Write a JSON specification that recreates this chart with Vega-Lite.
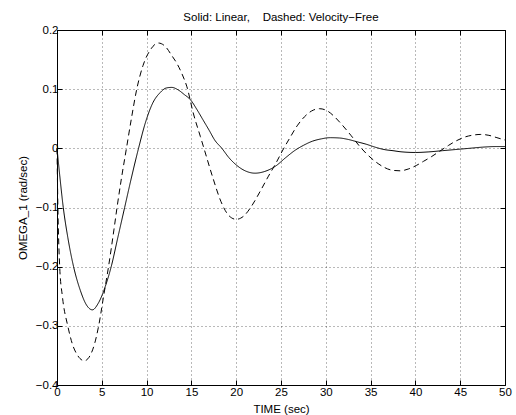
{
  "$schema": "https://vega.github.io/schema/vega-lite/v6.json",
  "width": 448,
  "height": 355,
  "autosize": {"type": "none"},
  "padding": {"left": 57, "top": 30, "right": 11, "bottom": 30},
  "background": "white",
  "title": {
    "text": "Solid: Linear,\u00a0\u00a0\u00a0\u00a0Dashed: Velocity\u2212Free",
    "font": "Liberation Sans",
    "fontSize": 11.5,
    "fontWeight": "normal",
    "color": "black",
    "anchor": "middle",
    "baseline": "alphabetic",
    "offset": 10,
    "dy": 18
  },
  "config": {
    "view": {"stroke": "black", "strokeWidth": 1},
    "axis": {
      "labelFont": "Liberation Sans",
      "labelFontSize": 11.5,
      "labelColor": "black",
      "titleFont": "Liberation Sans",
      "titleFontSize": 11.5,
      "titleFontWeight": "normal",
      "titleColor": "black",
      "tickColor": "black",
      "tickWidth": 1,
      "tickSize": -5,
      "domain": false,
      "gridColor": "black",
      "gridOpacity": 0.55,
      "gridDash": [1, 3],
      "gridWidth": 1
    }
  },
  "data": {
    "values": [
      {"t": 0, "v": 0, "series": "Linear"},
      {"t": 0.3, "v": -0.045, "series": "Linear"},
      {"t": 0.7, "v": -0.1, "series": "Linear"},
      {"t": 1.2, "v": -0.15, "series": "Linear"},
      {"t": 1.85, "v": -0.2, "series": "Linear"},
      {"t": 2.6, "v": -0.24, "series": "Linear"},
      {"t": 3.3, "v": -0.265, "series": "Linear"},
      {"t": 3.95, "v": -0.273, "series": "Linear"},
      {"t": 4.6, "v": -0.262, "series": "Linear"},
      {"t": 5.4, "v": -0.233, "series": "Linear"},
      {"t": 6.05, "v": -0.2, "series": "Linear"},
      {"t": 6.8, "v": -0.15, "series": "Linear"},
      {"t": 7.55, "v": -0.1, "series": "Linear"},
      {"t": 8.3, "v": -0.05, "series": "Linear"},
      {"t": 9.1, "v": 0, "series": "Linear"},
      {"t": 9.9, "v": 0.045, "series": "Linear"},
      {"t": 10.7, "v": 0.077, "series": "Linear"},
      {"t": 11.5, "v": 0.094, "series": "Linear"},
      {"t": 12.2, "v": 0.102, "series": "Linear"},
      {"t": 12.8, "v": 0.103, "series": "Linear"},
      {"t": 13.5, "v": 0.099, "series": "Linear"},
      {"t": 14.2, "v": 0.091, "series": "Linear"},
      {"t": 14.9, "v": 0.082, "series": "Linear"},
      {"t": 15.6, "v": 0.066, "series": "Linear"},
      {"t": 16.3, "v": 0.048, "series": "Linear"},
      {"t": 17.0, "v": 0.03, "series": "Linear"},
      {"t": 17.6, "v": 0.014, "series": "Linear"},
      {"t": 18.4, "v": 0, "series": "Linear"},
      {"t": 19.2, "v": -0.016, "series": "Linear"},
      {"t": 20.0, "v": -0.028, "series": "Linear"},
      {"t": 21.0, "v": -0.038, "series": "Linear"},
      {"t": 22.1, "v": -0.042, "series": "Linear"},
      {"t": 23.2, "v": -0.039, "series": "Linear"},
      {"t": 24.4, "v": -0.03, "series": "Linear"},
      {"t": 25.5, "v": -0.016, "series": "Linear"},
      {"t": 26.6, "v": -0.003, "series": "Linear"},
      {"t": 27.5, "v": 0.005, "series": "Linear"},
      {"t": 28.5, "v": 0.012, "series": "Linear"},
      {"t": 29.5, "v": 0.016, "series": "Linear"},
      {"t": 30.5, "v": 0.018, "series": "Linear"},
      {"t": 31.5, "v": 0.0175, "series": "Linear"},
      {"t": 32.5, "v": 0.015, "series": "Linear"},
      {"t": 33.5, "v": 0.011, "series": "Linear"},
      {"t": 34.5, "v": 0.007, "series": "Linear"},
      {"t": 35.5, "v": 0.002, "series": "Linear"},
      {"t": 36.5, "v": -0.002, "series": "Linear"},
      {"t": 37.5, "v": -0.004, "series": "Linear"},
      {"t": 38.5, "v": -0.006, "series": "Linear"},
      {"t": 40.0, "v": -0.007, "series": "Linear"},
      {"t": 41.5, "v": -0.006, "series": "Linear"},
      {"t": 43.0, "v": -0.004, "series": "Linear"},
      {"t": 44.5, "v": -0.002, "series": "Linear"},
      {"t": 46.0, "v": 0, "series": "Linear"},
      {"t": 47.5, "v": 0.002, "series": "Linear"},
      {"t": 49.0, "v": 0.003, "series": "Linear"},
      {"t": 50.0, "v": 0.003, "series": "Linear"},

      {"t": 0, "v": 0, "series": "Velocity-Free"},
      {"t": 0.1, "v": -0.1, "series": "Velocity-Free"},
      {"t": 0.3, "v": -0.2, "series": "Velocity-Free"},
      {"t": 0.6, "v": -0.25, "series": "Velocity-Free"},
      {"t": 1.2, "v": -0.3, "series": "Velocity-Free"},
      {"t": 1.7, "v": -0.33, "series": "Velocity-Free"},
      {"t": 2.3, "v": -0.35, "series": "Velocity-Free"},
      {"t": 3.05, "v": -0.359, "series": "Velocity-Free"},
      {"t": 3.7, "v": -0.35, "series": "Velocity-Free"},
      {"t": 4.2, "v": -0.33, "series": "Velocity-Free"},
      {"t": 4.65, "v": -0.3, "series": "Velocity-Free"},
      {"t": 5.2, "v": -0.25, "series": "Velocity-Free"},
      {"t": 5.75, "v": -0.2, "series": "Velocity-Free"},
      {"t": 6.35, "v": -0.138, "series": "Velocity-Free"},
      {"t": 6.7, "v": -0.1, "series": "Velocity-Free"},
      {"t": 7.2, "v": -0.05, "series": "Velocity-Free"},
      {"t": 7.75, "v": 0, "series": "Velocity-Free"},
      {"t": 8.3, "v": 0.05, "series": "Velocity-Free"},
      {"t": 8.9, "v": 0.1, "series": "Velocity-Free"},
      {"t": 9.6, "v": 0.14, "series": "Velocity-Free"},
      {"t": 10.4, "v": 0.166, "series": "Velocity-Free"},
      {"t": 11.3, "v": 0.178, "series": "Velocity-Free"},
      {"t": 12.1, "v": 0.172, "series": "Velocity-Free"},
      {"t": 12.8, "v": 0.157, "series": "Velocity-Free"},
      {"t": 13.4, "v": 0.143, "series": "Velocity-Free"},
      {"t": 14.0, "v": 0.124, "series": "Velocity-Free"},
      {"t": 14.5, "v": 0.104, "series": "Velocity-Free"},
      {"t": 15.2, "v": 0.06, "series": "Velocity-Free"},
      {"t": 16.0, "v": 0.02, "series": "Velocity-Free"},
      {"t": 16.4, "v": 0, "series": "Velocity-Free"},
      {"t": 17.4, "v": -0.05, "series": "Velocity-Free"},
      {"t": 18.3, "v": -0.09, "series": "Velocity-Free"},
      {"t": 19.2, "v": -0.114, "series": "Velocity-Free"},
      {"t": 20.0, "v": -0.12, "series": "Velocity-Free"},
      {"t": 20.8, "v": -0.115, "series": "Velocity-Free"},
      {"t": 21.7, "v": -0.098, "series": "Velocity-Free"},
      {"t": 22.7, "v": -0.072, "series": "Velocity-Free"},
      {"t": 23.6, "v": -0.047, "series": "Velocity-Free"},
      {"t": 24.4, "v": -0.026, "series": "Velocity-Free"},
      {"t": 25.2, "v": -0.003, "series": "Velocity-Free"},
      {"t": 26.0, "v": 0.018, "series": "Velocity-Free"},
      {"t": 26.8, "v": 0.038, "series": "Velocity-Free"},
      {"t": 27.6, "v": 0.053, "series": "Velocity-Free"},
      {"t": 28.4, "v": 0.063, "series": "Velocity-Free"},
      {"t": 29.3, "v": 0.067, "series": "Velocity-Free"},
      {"t": 30.2, "v": 0.063, "series": "Velocity-Free"},
      {"t": 31.0, "v": 0.053, "series": "Velocity-Free"},
      {"t": 31.8, "v": 0.04, "series": "Velocity-Free"},
      {"t": 32.8, "v": 0.022, "series": "Velocity-Free"},
      {"t": 33.8, "v": 0.003, "series": "Velocity-Free"},
      {"t": 34.6, "v": -0.01, "series": "Velocity-Free"},
      {"t": 35.5, "v": -0.022, "series": "Velocity-Free"},
      {"t": 36.5, "v": -0.032, "series": "Velocity-Free"},
      {"t": 37.4, "v": -0.037, "series": "Velocity-Free"},
      {"t": 38.3, "v": -0.038, "series": "Velocity-Free"},
      {"t": 39.2, "v": -0.035, "series": "Velocity-Free"},
      {"t": 40.1, "v": -0.029, "series": "Velocity-Free"},
      {"t": 40.9, "v": -0.022, "series": "Velocity-Free"},
      {"t": 41.8, "v": -0.014, "series": "Velocity-Free"},
      {"t": 42.7, "v": -0.005, "series": "Velocity-Free"},
      {"t": 43.7, "v": 0.005, "series": "Velocity-Free"},
      {"t": 44.6, "v": 0.013, "series": "Velocity-Free"},
      {"t": 45.5, "v": 0.019, "series": "Velocity-Free"},
      {"t": 46.5, "v": 0.0225, "series": "Velocity-Free"},
      {"t": 47.3, "v": 0.0235, "series": "Velocity-Free"},
      {"t": 48.2, "v": 0.022, "series": "Velocity-Free"},
      {"t": 49.1, "v": 0.018, "series": "Velocity-Free"},
      {"t": 50.0, "v": 0.014, "series": "Velocity-Free"}
    ]
  },
  "layer": [
    {
      "mark": {"type": "line", "color": "black", "strokeWidth": 1, "interpolate": "monotone"},
      "encoding": {
        "x": {
          "field": "t", "type": "quantitative",
          "scale": {"domain": [0, 50], "nice": false, "zero": false},
          "axis": {
            "orient": "bottom",
            "values": [0, 5, 10, 15, 20, 25, 30, 35, 40, 45, 50],
            "format": "d",
            "labelPadding": 6,
            "labelFlush": false,
            "title": "TIME (sec)",
            "titleY": 27,
            "titleBaseline": "alphabetic",
            "grid": true
          }
        },
        "y": {
          "field": "v", "type": "quantitative",
          "scale": {"domain": [-0.4, 0.2], "nice": false, "zero": false},
          "axis": {
            "orient": "left",
            "values": [-0.4, -0.3, -0.2, -0.1, 0, 0.1, 0.2],
            "format": ".1~f",
            "labelPadding": 4,
            "labelFlush": false,
            "title": "OMEGA_1 (rad/sec)",
            "titleX": -31,
            "titleY": 177.5,
            "titleAngle": -90,
            "titleAlign": "center",
            "titleBaseline": "alphabetic",
            "grid": true
          }
        },
        "strokeDash": {
          "field": "series", "type": "nominal",
          "scale": {"domain": ["Linear", "Velocity-Free"], "range": [[1, 0], [6, 4]]},
          "legend": null
        }
      }
    },
    {
      "mark": {"type": "line", "opacity": 0},
      "encoding": {
        "x": {
          "field": "t", "type": "quantitative",
          "scale": {"domain": [0, 50], "nice": false, "zero": false},
          "axis": {
            "orient": "top",
            "values": [0, 5, 10, 15, 20, 25, 30, 35, 40, 45, 50],
            "labels": false,
            "title": null,
            "grid": false
          }
        },
        "y": {
          "field": "v", "type": "quantitative",
          "scale": {"domain": [-0.4, 0.2], "nice": false, "zero": false},
          "axis": {
            "orient": "right",
            "values": [-0.4, -0.3, -0.2, -0.1, 0, 0.1, 0.2],
            "labels": false,
            "title": null,
            "grid": false
          }
        },
        "detail": {"field": "series", "type": "nominal"}
      }
    }
  ],
  "resolve": {"axis": {"x": "independent", "y": "independent"}}
}
